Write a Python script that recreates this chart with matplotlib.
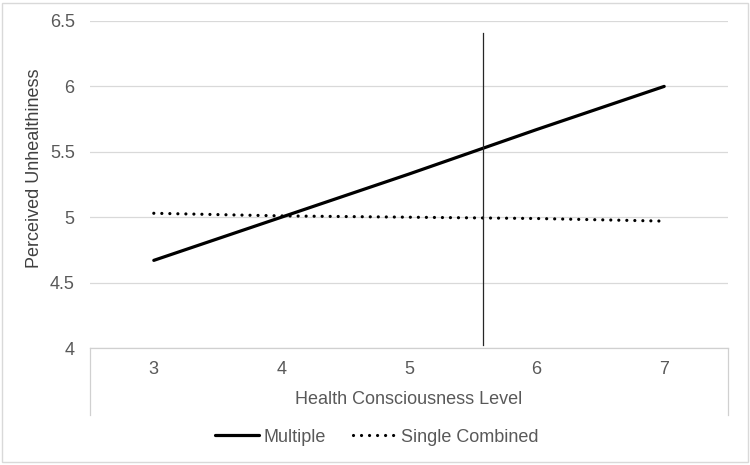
import matplotlib.pyplot as plt
from matplotlib.lines import Line2D

plt.rcParams['font.family'] = ['Liberation Sans', 'DejaVu Sans']

levels = [3, 4, 5, 6, 7]
multiple = [4.67, 5.00, 5.33, 5.67, 6.00]
single_combined = [5.03, 5.01, 5.00, 4.99, 4.97]
yticks = [4, 4.5, 5, 5.5, 6, 6.5]
ytick_labels = ['4', '4.5', '5', '5.5', '6', '6.5']
marker_x = 5.58
marker_y = [4.02, 6.41]

W, H = 750, 465
fig = plt.figure(figsize=(7.5, 4.65), dpi=100)
ax = fig.add_axes([90 / W, (H - 348) / H, 638 / W, 327 / H])

text_col = '#595959'
grid_col = '#d9d9d9'
fs = 13

ax.plot(levels, multiple, color='black', lw=2.3, solid_capstyle='round', label='Multiple')
ax.plot(levels, single_combined, color='black', lw=2.3, linestyle=(0, (0.01, 2.5)),
        dash_capstyle='round', label='Single Combined')
ax.plot([marker_x, marker_x], marker_y, color='#262626', lw=0.9)

ax.set_xlim(2.5, 7.5)
ax.set_ylim(4, 6.5)
ax.set_yticks(yticks)
ax.set_yticklabels(ytick_labels)
ax.set_xticks(levels)
ax.set_xticklabels([str(v) for v in levels])
ax.grid(axis='y', color=grid_col, lw=0.9)
ax.set_axisbelow(True)
for s in ax.spines.values():
    s.set_visible(False)
ax.tick_params(axis='both', length=0, labelsize=fs, colors=text_col)
ax.tick_params(axis='y', pad=11)
ax.tick_params(axis='x', pad=9)

# category axis box
box_col = '#d0d0d0'
depth = (415 - 348) / 327
for xs, ys in [([0, 1], [0, 0]), ([0, 0], [0, -depth]), ([1, 1], [0, -depth])]:
    ax.add_line(Line2D(xs, ys, transform=ax.transAxes, color=box_col, lw=0.9, clip_on=False))

ax.set_xlabel('Health Consciousness Level', fontsize=fs, color=text_col, labelpad=10)
ax.set_ylabel('Perceived Unhealthiness', fontsize=fs, color='#404040')
ax.yaxis.set_label_coords((43 - 90) / 638, (348 - 168) / 327)

leg = fig.legend(loc='center', bbox_to_anchor=(377 / W, 1 - 437 / H), ncol=2, frameon=False,
                 fontsize=fs, handlelength=2.45, columnspacing=1.45, handletextpad=0.25)
for t in leg.get_texts():
    t.set_color(text_col)

fig.add_artist(plt.Rectangle((2 / W, 3 / H), 746 / W, 459 / H, transform=fig.transFigure,
                             fill=False, edgecolor=grid_col, lw=1))

fig.savefig('out.png', dpi=100)
